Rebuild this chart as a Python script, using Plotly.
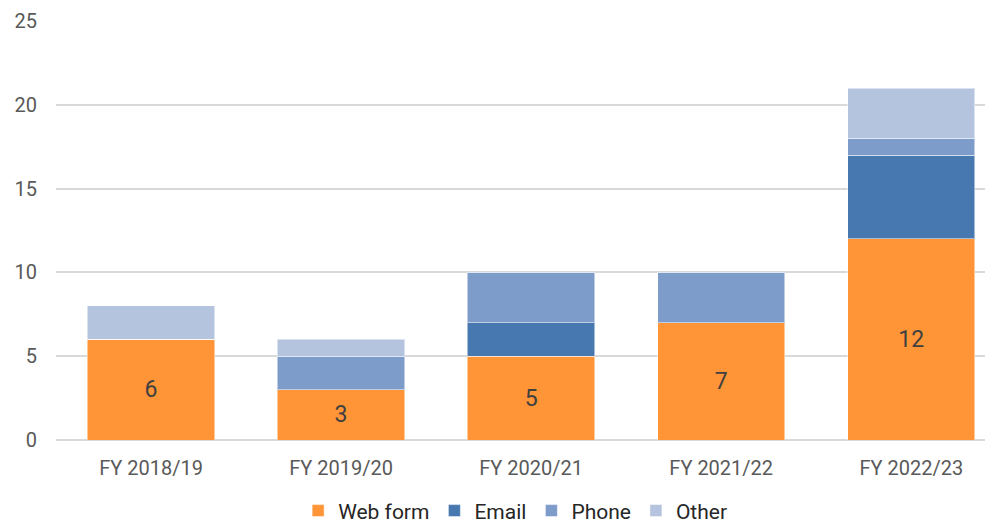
import plotly.graph_objects as go

categories = ["FY 2018/19", "FY 2019/20", "FY 2020/21", "FY 2021/22", "FY 2022/23"]
web_form = [6, 3, 5, 7, 12]
email = [0, 0, 2, 0, 5]
phone = [0, 2, 3, 3, 1]
other = [2, 1, 0, 0, 3]

series = [
    ("Web form", web_form, "#FF9537", True),
    ("Email", email, "#4878B0", False),
    ("Phone", phone, "#7E9CC9", False),
    ("Other", other, "#B4C3DE", False),
]

fig = go.Figure()
for name, vals, color, lab in series:
    fig.add_trace(go.Bar(
        x=categories, y=vals, name=name,
        marker=dict(color=color, line=dict(color="rgba(255,255,255,0.5)", width=1)),
        text=[str(v) for v in vals] if lab else None,
        textposition="inside" if lab else None,
        insidetextanchor="middle",
        textfont=dict(size=23, color="#404040", family="Roboto"),
        width=0.67,
    ))

fig.update_layout(
    barmode="stack",
    width=993, height=525,
    margin=dict(l=48, r=8, t=13, b=93),
    plot_bgcolor="white", paper_bgcolor="white",
    font=dict(family="Roboto", color="#595959", size=20),
    showlegend=True,
    legend=dict(orientation="h", x=0.49, xanchor="center", xref="paper",
                y=0.042, yanchor="middle", yref="container",
                font=dict(size=21, color="#262626"), traceorder="normal", itemwidth=30),
    xaxis=dict(range=[-0.5, 4.43], showgrid=False, ticks="", automargin=False,
               ticklabelstandoff=14, tickfont=dict(size=20, color="#595959")),
    yaxis=dict(range=[0, 25], dtick=5, gridcolor="#d9d9d9", gridwidth=1.5, zeroline=True,
               zerolinecolor="#d9d9d9", zerolinewidth=1.5, automargin=False,
               tickfont=dict(size=20, color="#595959"), ticklabelstandoff=18),
    bargap=0.33,
)
fig.write_html("out.html")
